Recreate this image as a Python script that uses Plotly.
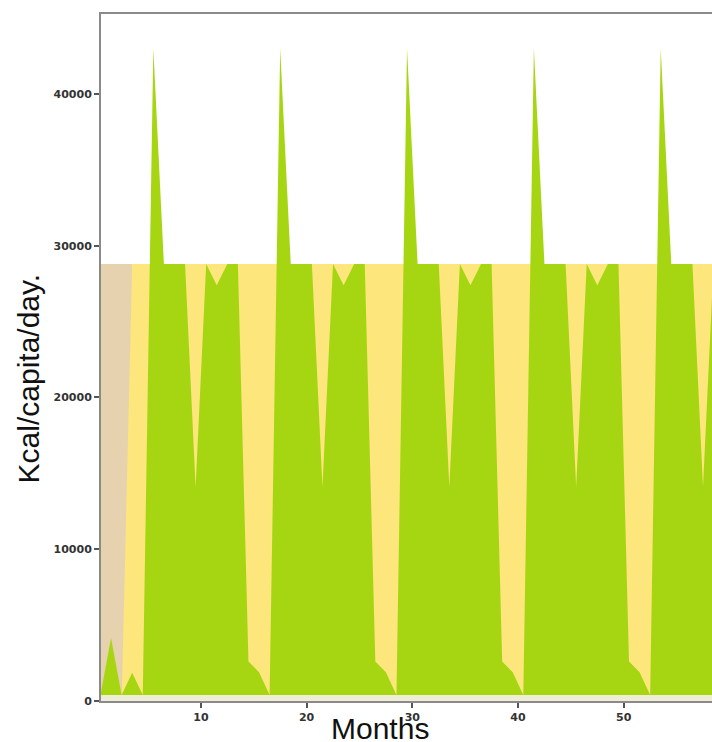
import plotly.graph_objects as go

# Months (mid-month positions)
months = [0.5, 1.5, 2.5, 3.5, 4.5, 5.5, 6.5, 7.5, 8.5, 9.5,
          10.5, 11.5, 12.5, 13.5, 14.5, 15.5, 16.5, 17.5, 18.5, 19.5,
          20.5, 21.5, 22.5, 23.5, 24.5, 25.5, 26.5, 27.5, 28.5, 29.5,
          30.5, 31.5, 32.5, 33.5, 34.5, 35.5, 36.5, 37.5, 38.5, 39.5,
          40.5, 41.5, 42.5, 43.5, 44.5, 45.5, 46.5, 47.5, 48.5, 49.5,
          50.5, 51.5, 52.5, 53.5, 54.5, 55.5, 56.5, 57.5, 58.5]

# Green series (Kcal/capita/day)
green_kcal = [400, 4150, 400, 1860, 400,
              43000, 28800, 28800, 28800, 14100, 28800, 27400, 28800, 28800, 2600, 1900, 400,
              43000, 28800, 28800, 28800, 14100, 28800, 27400, 28800, 28800, 2600, 1900, 400,
              43000, 28800, 28800, 28800, 14100, 28800, 27400, 28800, 28800, 2600, 1900, 400,
              43000, 28800, 28800, 28800, 14100, 28800, 27400, 28800, 28800, 2600, 1900, 400,
              43000, 28800, 28800, 28800, 14100, 28800]

# Yellow series
yellow_months = [2.5, 3.5, 58.5]
yellow_kcal = [0, 28800, 28800]

# Tan series
tan_months = [0.5, 3.5]
tan_kcal = [28800, 28800]

# Pale base series
base_months = [0.5, 58.5]
base_kcal = [400, 400]

y_ticks = [0, 10000, 20000, 30000, 40000]
x_ticks = [10, 20, 30, 40, 50]

fig = go.Figure()
fig.add_trace(go.Scatter(x=tan_months, y=tan_kcal, mode="lines", fill="tozeroy",
                         line=dict(width=0, color="#e6d2ae"), fillcolor="#e6d2ae",
                         showlegend=False, hoverinfo="skip"))
fig.add_trace(go.Scatter(x=yellow_months, y=yellow_kcal, mode="lines", fill="tozeroy",
                         line=dict(width=0, color="#fde67c"), fillcolor="#fde67c",
                         showlegend=False, hoverinfo="skip"))
fig.add_trace(go.Scatter(x=months, y=green_kcal, mode="lines", fill="tozeroy",
                         line=dict(width=0, color="#a6d612"), fillcolor="#a6d612",
                         showlegend=False, hoverinfo="skip"))
fig.add_trace(go.Scatter(x=base_months, y=base_kcal, mode="lines", fill="tozeroy",
                         line=dict(width=0, color="#eeedd6"), fillcolor="#eeedd6",
                         showlegend=False, hoverinfo="skip"))

tickfont = dict(family="DejaVu Sans", size=11, color="#333333", weight="bold")

fig.update_layout(
    width=712, height=742,
    margin=dict(l=101, r=0, t=14, b=41),
    paper_bgcolor="white", plot_bgcolor="white",
    xaxis=dict(range=[0.55, 58.35], tickvals=x_ticks, tickformat="d", showgrid=False,
               zeroline=False, automargin=False,
               showline=True, linecolor="#8a8a8a", linewidth=2, mirror=True,
               ticks="outside", ticklen=5, tickcolor="#555555", tickwidth=1.5,
               tickfont=tickfont),
    yaxis=dict(range=[0, 45270], tickvals=y_ticks, tickformat="d", showgrid=False,
               zeroline=False, automargin=False,
               showline=True, linecolor="#8a8a8a", linewidth=2,
               ticks="outside", ticklen=5, tickcolor="#555555", tickwidth=1.5,
               tickfont=tickfont),
    annotations=[
        dict(text="Months", xref="paper", yref="paper", x=0.457, y=-0.040,
             xanchor="center", yanchor="middle", showarrow=False,
             font=dict(family="Liberation Sans", size=30, color="#111111")),
        dict(text="Kcal/capita/day.", xref="paper", yref="paper", x=-0.119, y=0.47,
             xanchor="center", yanchor="middle", textangle=-90, showarrow=False,
             font=dict(family="Liberation Sans Narrow, Liberation Sans", size=30, color="#111111")),
    ],
)

fig.write_html("out.html",
               config={"displayModeBar": False},
               post_script="document.body.style.margin='0';document.body.style.overflow='hidden';")
